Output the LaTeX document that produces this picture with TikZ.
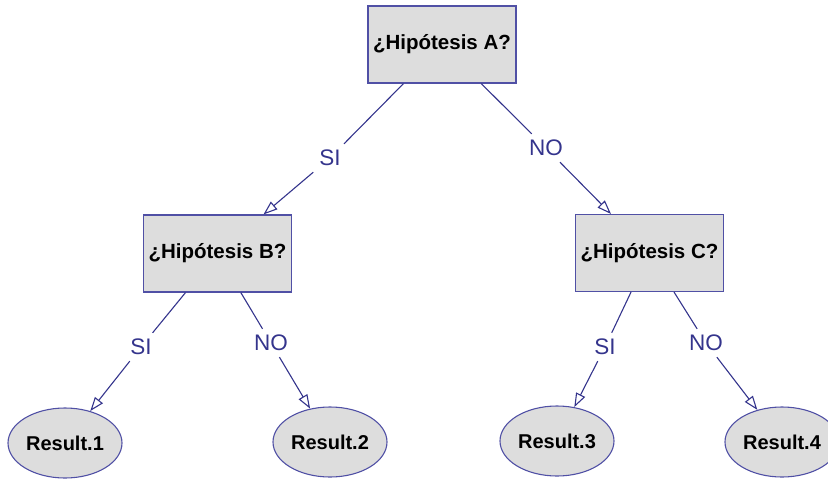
\documentclass[tikz,border=0pt]{standalone}
\usepackage{fontspec}
\setmainfont{Liberation Sans}
\usetikzlibrary{arrows.meta,shapes.geometric}
\definecolor{edgec}{RGB}{52,52,140}
\definecolor{borderc}{RGB}{80,80,165}
\definecolor{fillc}{RGB}{221,221,221}
\tikzset{
  qbox/.style={draw=borderc, fill=fillc, line width=1.1pt, minimum width=148pt, minimum height=77pt, inner sep=0pt, font=\fontsize{20.5}{24}\selectfont\bfseries},
  resnode/.style={ellipse, draw=borderc, fill=fillc, line width=1.1pt, minimum width=114pt, minimum height=70pt, inner sep=0pt, font=\fontsize{20}{24}\selectfont\bfseries},
  elabel/.style={text=edgec, font=\fontsize{22.5}{26}\selectfont, inner sep=6pt},
  conn/.style={draw=edgec, line width=1.1pt},
  arr/.style={conn, -{Triangle[open, length=14pt, width=10pt, line width=1.1pt]}}
}
\begin{document}
\begin{tikzpicture}[x=1pt, y=-1pt]
\useasboundingbox (0,0) rectangle (828,480);
\node[qbox] (A) at (442,44.5) {¿Hipótesis A?};
\node[qbox] (B) at (217.5,253.5) {¿Hipótesis B?};
\node[qbox] (C) at (649.5,253) {¿Hipótesis C?};
\node[resnode] (R1) at (65,443) {Result.1};
\node[resnode] (R2) at (330,442) {Result.2};
\node[resnode] (R3) at (557,441) {Result.3};
\node[resnode] (R4) at (782,442) {Result.4};
\node[elabel] (l1) at (330,158) {SI};
\node[elabel] (l2) at (546,148) {NO};
\node[elabel] (l3) at (141,347) {SI};
\node[elabel] (l4) at (271,343) {NO};
\node[elabel] (l5) at (605,347) {SI};
\node[elabel] (l6) at (706,343) {NO};
\draw[conn] (A) -- (l1);
\draw[arr] (l1) -- (B);
\draw[conn] (A) -- (l2);
\draw[arr] (l2) -- (C);
\draw[conn] (B) -- (l3);
\draw[arr] (l3) -- (R1);
\draw[conn] (B) -- (l4);
\draw[arr] (l4) -- (R2);
\draw[conn] (C) -- (l5);
\draw[arr] (l5) -- (R3);
\draw[conn] (C) -- (l6);
\draw[arr] (l6) -- (R4);
\end{tikzpicture}
\end{document}
